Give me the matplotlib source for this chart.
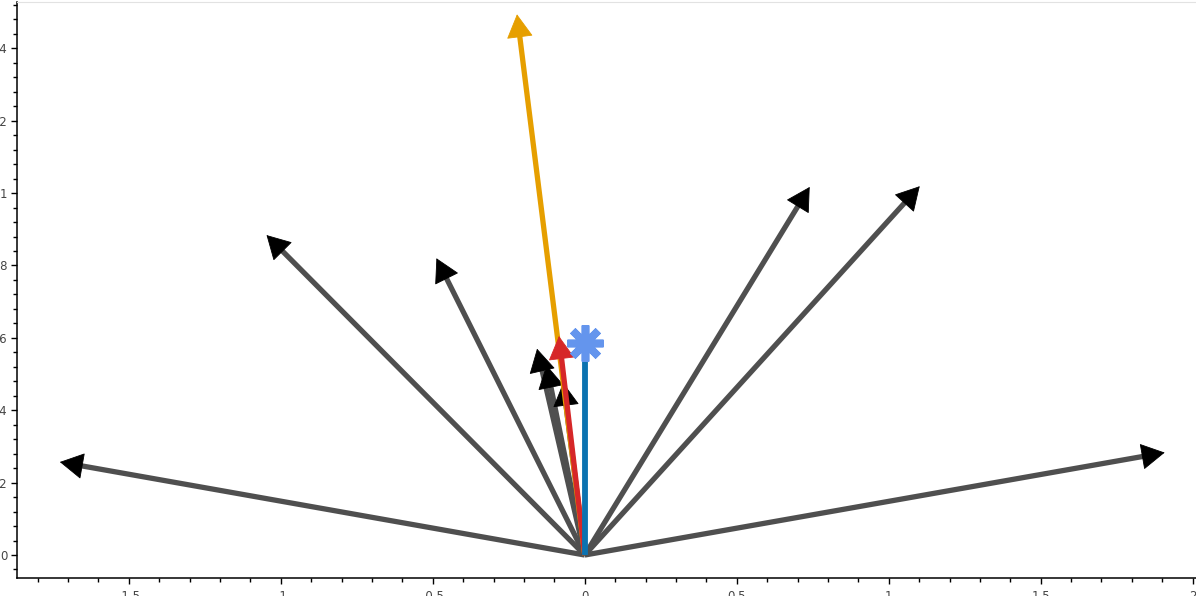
import numpy as np
import matplotlib
matplotlib.use("Agg")
import matplotlib.pyplot as plt
from matplotlib.ticker import MultipleLocator, FormatStrFormatter

# puntas de las flechas negras (todas salen del origen)
black_x = [-1.727, 1.908, -1.047, -0.488, 0.740, 1.102, -0.157, -0.126, -0.071]
black_y = [0.257, 0.283, 0.884, 0.820, 1.017, 1.019, 0.570, 0.525, 0.476]

# vectores de color
orange_vec = (-0.223, 1.494)
red_vec = (-0.085, 0.605)
blue_vec = (0.0, 0.585)

x_ticks = [-1.5, -1, -0.5, 0, 0.5, 1, 1.5, 2]
y_ticks = [0, 0.2, 0.4, 0.6, 0.8, 1.0, 1.2, 1.4]

W, H = 1196, 596
fig = plt.figure(figsize=(W / 100, H / 100), dpi=100)
ax = fig.add_axes([17 / W, 18 / H, (W - 17) / W, 576 / H])
ax.set_xlim(-1.868, 2.011)
ax.set_ylim(-0.0635, 1.528)

head_len_px = 22


def draw_arrow(x, y, line_color, head_color, z):
    # acortar la linea hasta la base de la punta (en pixeles de pantalla)
    p0 = ax.transData.transform((0, 0))
    p1 = ax.transData.transform((x, y))
    u = (p1 - p0) / np.hypot(*(p1 - p0))
    end = ax.transData.inverted().transform(p1 - u * head_len_px * 0.8)
    ax.plot([0, end[0]], [0, end[1]], color=line_color, lw=3.8,
            solid_capstyle="butt", zorder=z)
    ax.annotate("", xy=(x, y), xytext=(x * 0.985, y * 0.985),
                arrowprops=dict(arrowstyle="-|>,head_length=0.68,head_width=0.38",
                                mutation_scale=23, color=head_color, lw=0.6,
                                shrinkA=0, shrinkB=0),
                zorder=z + 0.5)


for bx, by in zip(black_x, black_y):
    draw_arrow(bx, by, "#4f4f4f", "black", 2)

draw_arrow(orange_vec[0], orange_vec[1], "#E69F00", "#E69F00", 3)
draw_arrow(red_vec[0], red_vec[1], "#D62728", "#D62728", 4)

ax.plot([0, blue_vec[0]], [0, blue_vec[1]], color="#0B72B0", lw=4.2,
        solid_capstyle="butt", zorder=5)
ax.plot([blue_vec[0]], [blue_vec[1]], marker=(8, 2, 0), markersize=26,
        markeredgewidth=5.5, color="#6495ED", zorder=6)

# ejes al estilo bokeh
ax.spines["right"].set_visible(False)
ax.spines["top"].set_color("#e2e2e2")
ax.spines["left"].set_linewidth(1.1)
ax.spines["bottom"].set_linewidth(1.1)
ax.xaxis.set_minor_locator(MultipleLocator(0.1))
ax.yaxis.set_minor_locator(MultipleLocator(0.04))
ax.set_xticks(x_ticks)
ax.set_yticks(y_ticks)
ax.xaxis.set_major_formatter(FormatStrFormatter("%g"))
ax.yaxis.set_major_formatter(FormatStrFormatter("%g"))
ax.tick_params(which="major", direction="out", length=4.5, width=1, pad=2.5,
               labelsize=8.5, labelcolor="#444444")
ax.tick_params(axis="x", which="major", pad=4.5)
ax.tick_params(which="minor", direction="out", length=3, width=1)
ax.set_xlim(-1.868, 2.011)
ax.set_ylim(-0.0635, 1.528)

fig.savefig("out.png", dpi=100)
